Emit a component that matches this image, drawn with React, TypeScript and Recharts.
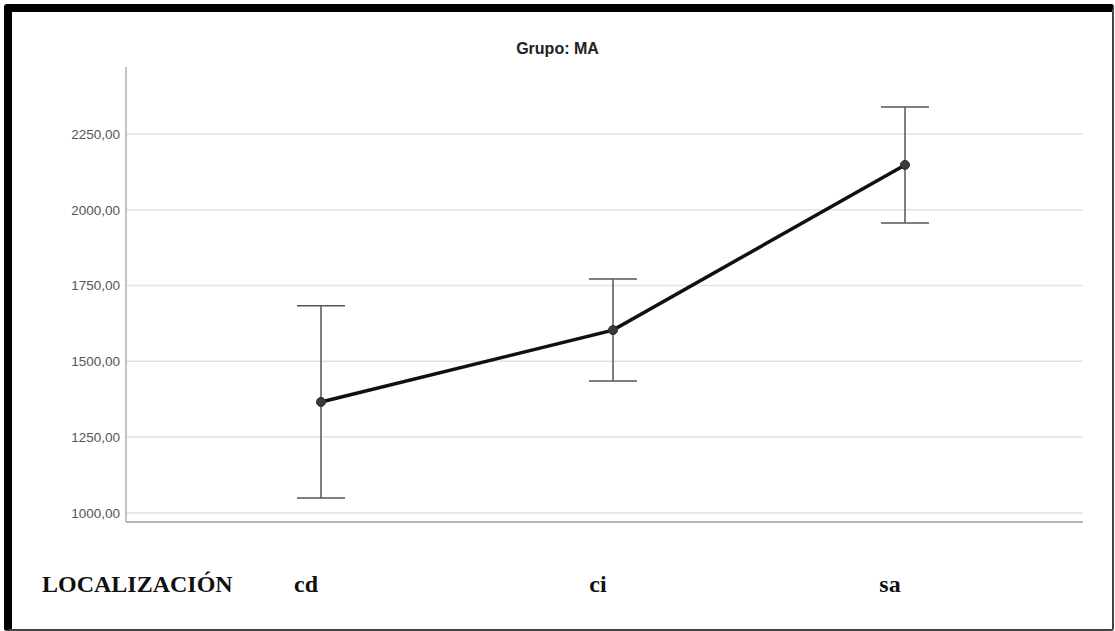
import React from 'react';
import { LineChart, Line, XAxis, YAxis, CartesianGrid, ErrorBar } from 'recharts';

// Localización categories and mean values with their interval ends
const categories = ['cd', 'ci', 'sa'];
const means = [1366, 1603, 2148];
const lowerEnds = [1049, 1435, 1956];
const upperEnds = [1683, 1772, 2339];
const yTicks = [1000, 1250, 1500, 1750, 2000, 2250];

const chartData = categories.map((loc, i) => ({
  loc,
  mean: means[i],
  err: [means[i] - lowerEnds[i], upperEnds[i] - means[i]],
}));

const fmt = (v: number) => v.toFixed(2).replace('.', ',');

function CategoryTick(props: any) {
  const { x, y, payload } = props;
  return (
    <text
      x={x}
      y={y}
      dx={-15}
      dy={62}
      textAnchor="middle"
      fontFamily="'Liberation Serif', 'Times New Roman', serif"
      fontWeight="bold"
      fontSize={24}
      fill="#111"
    >
      {payload.value}
    </text>
  );
}

export default function App() {
  return (
    <div style={{ position: 'absolute', left: 0, top: 0, width: 1115, height: 631, background: '#fff' }}>
      <LineChart
        width={1115}
        height={631}
        data={chartData}
        margin={{ top: 67, right: 32, left: 46, bottom: 29 }}
      >
        <CartesianGrid
          vertical={false}
          horizontalValues={yTicks}
          syncWithTicks
          stroke="#e2e2e2"
          strokeWidth={1.5}
        />
        <XAxis
          dataKey="loc"
          height={80}
          padding={{ left: 195, right: 178 }}
          axisLine={{ stroke: '#b5b5b5', strokeWidth: 2 }}
          tickLine={false}
          tick={<CategoryTick />}
          label={{
            content: (p: any) => (
              <text
                x={p.viewBox.x - 84}
                y={p.viewBox.y + 70}
                fontFamily="'Liberation Serif', 'Times New Roman', serif"
                fontWeight="bold"
                fontSize={24}
                fill="#111"
              >
                LOCALIZACIÓN
              </text>
            ),
          }}
        />
        <YAxis
          width={80}
          domain={[970, 2471]}
          ticks={yTicks}
          tickFormatter={fmt}
          axisLine={{ stroke: '#b0b0b0', strokeWidth: 1.5 }}
          tickLine={false}
          tickSize={4}
          tickMargin={2}
          tick={{ fill: '#555', fontSize: 13.5, fontFamily: "'Liberation Sans', Arial, sans-serif" }}
        />
        <Line
          type="linear"
          dataKey="mean"
          stroke="#111"
          strokeWidth={3.5}
          dot={{ r: 4.5, fill: '#3a3a3a', stroke: '#2a2a2a', strokeWidth: 1 }}
          isAnimationActive={false}
        >
          <ErrorBar dataKey="err" width={24} stroke="#555" strokeWidth={1.5} direction="y" isAnimationActive={false} />
        </Line>
      </LineChart>
      <div
        style={{
          position: 'absolute',
          left: 0,
          top: 40,
          width: 1115,
          textAlign: 'center',
          fontFamily: "'Liberation Sans', Arial, sans-serif",
          fontWeight: 'bold',
          fontSize: 16,
          color: '#222',
        }}
      >
        Grupo: MA
      </div>
      <div
        style={{
          position: 'absolute',
          left: 4,
          top: 4,
          width: 1110,
          height: 627,
          boxSizing: 'border-box',
          borderTop: '8px solid #000',
          borderLeft: '8px solid #000',
          borderRight: '2px solid #444',
          borderBottom: '2px solid #444',
          borderRadius: 3,
          pointerEvents: 'none',
        }}
      />
    </div>
  );
}
